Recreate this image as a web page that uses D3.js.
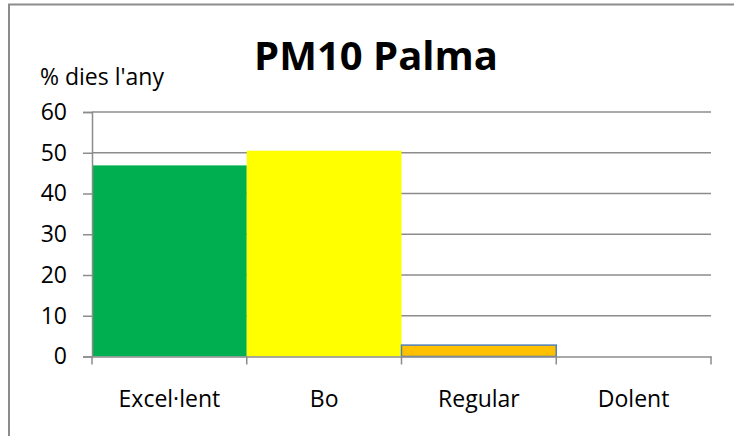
<!DOCTYPE html>
<meta charset="utf-8">
<head>
    <script src="https://d3js.org/d3.v7.min.js"></script>
    <style>
        body { margin: 0; background: #fff; }
        text { font-family: "Open Sans", sans-serif; fill: #000; }
    </style>
</head>
<body>
<script>
    // data
    var categories = ["Excel·lent", "Bo", "Regular", "Dolent"];
    var values = [46.9, 50.5, 2.8, 0];
    var colors = ["#00B050", "#FFFF00", "#FFC000", "#C00000"];
    var yTicks = [0, 10, 20, 30, 40, 50, 60];

    var width = 734, height = 436;
    var plot = {left: 92, right: 711, top: 112, bottom: 356.5};

    var svg = d3.select("body").append("svg")
        .attr("width", width)
        .attr("height", height);

    // outer frame (right and bottom edges fall outside the picture)
    svg.append("rect")
        .attr("x", 9).attr("y", 4.5)
        .attr("width", 740).attr("height", 450)
        .attr("fill", "none")
        .attr("stroke", "#8c8c8c")
        .attr("stroke-width", 2);

    var x = d3.scaleBand()
        .domain(categories)
        .range([plot.left, plot.right])
        .padding(0);

    var y = d3.scaleLinear()
        .domain([0, 60])
        .range([plot.bottom, plot.top]);

    // gridlines
    svg.append("g")
        .selectAll("line")
        .data(yTicks.filter(function (d) { return d > 0; }))
        .enter()
        .append("line")
        .attr("x1", plot.left).attr("x2", plot.right)
        .attr("y1", function (d) { return y(d); })
        .attr("y2", function (d) { return y(d); })
        .attr("stroke", "#8c8c8c")
        .attr("stroke-width", 1.5);

    // bars
    svg.append("g")
        .selectAll("rect")
        .data(values)
        .enter()
        .append("rect")
        .attr("x", function (d, i) { return x(categories[i]); })
        .attr("width", x.bandwidth())
        .attr("y", function (d) { return y(d); })
        .attr("height", function (d) { return y(0) - y(d); })
        .attr("fill", function (d, i) { return colors[i]; })
        .attr("stroke", function (d, i) { return i === 2 ? "#4F81BD" : "none"; })
        .attr("stroke-width", 1.5);

    // y axis
    var yAxis = svg.append("g")
        .attr("transform", "translate(" + plot.left + ",0)")
        .call(d3.axisLeft(y).tickValues(yTicks).tickSize(9).tickPadding(16));
    yAxis.select(".domain").attr("stroke", "#8c8c8c").attr("stroke-width", 1.5);
    yAxis.selectAll(".tick line").attr("stroke", "#8c8c8c").attr("stroke-width", 1.5);
    yAxis.selectAll("text")
        .style("font-size", "23px")
        .attr("fill", "#000");

    // x axis
    var xAxis = svg.append("g")
        .attr("transform", "translate(0," + plot.bottom + ")")
        .call(d3.axisBottom(x).tickSize(0).tickPadding(34));
    xAxis.select(".domain").attr("stroke", "#8c8c8c").attr("stroke-width", 1.5);
    xAxis.selectAll("text")
        .style("font-size", "23px")
        .attr("fill", "#000");

    // category boundary ticks
    var bounds = categories.map(function (c) { return x(c); }).concat([plot.right]);
    svg.append("g")
        .selectAll("line")
        .data(bounds)
        .enter()
        .append("line")
        .attr("x1", function (d) { return d; })
        .attr("x2", function (d) { return d; })
        .attr("y1", plot.bottom)
        .attr("y2", plot.bottom + 8)
        .attr("stroke", "#8c8c8c")
        .attr("stroke-width", 1.5);

    // title
    svg.append("text")
        .attr("x", 376)
        .attr("y", 70)
        .attr("text-anchor", "middle")
        .style("font-size", "40px")
        .style("font-weight", "bold")
        .text("PM10 Palma");

    // axis label
    svg.append("text")
        .attr("x", 40)
        .attr("y", 85)
        .style("font-size", "23px")
        .text("% dies l'any");
</script>
</body>
</html>
